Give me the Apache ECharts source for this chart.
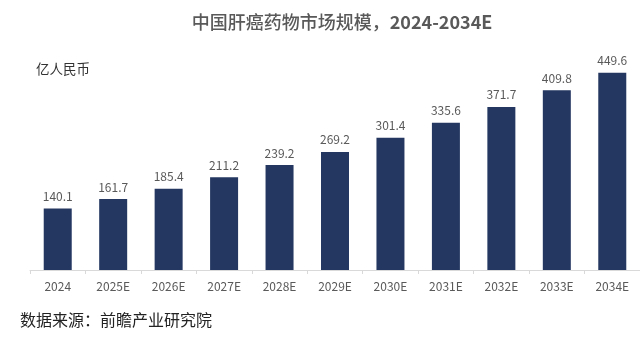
<!DOCTYPE html>
<html><head><meta charset="utf-8">
<script src="https://cdn.jsdelivr.net/npm/echarts@6/dist/echarts.min.js"></script>
<style>html,body{margin:0;padding:0;background:#fff}#c{width:640px;height:337px}</style>
</head><body><div id="c"></div>
<script>
const categories = ['2024','2025E','2026E','2027E','2028E','2029E','2030E','2031E','2032E','2033E','2034E'];
const values = [140.1,161.7,185.4,211.2,239.2,269.2,301.4,335.6,371.7,409.8,449.6];
const titleCn = '中国肝癌药物市场规模，';
const titleYears = '2024-2034E';
const unitText = '亿人民币';
const sourceText = '数据来源：前瞻产业研究院';
const font = '"Noto Sans CJK SC", "Noto Sans", sans-serif';
const chart = echarts.init(document.getElementById('c'));
chart.setOption({
  animation: false,
  backgroundColor: '#fff',
  title: [
    {text: '{a|' + titleCn + '}{b|' + titleYears + '}', left: 337, top: 8, textAlign: 'center',
     textStyle: {rich: {
       a: {fontFamily: font, fontSize: 18, fontWeight: 500, color: '#595959'},
       b: {fontFamily: font, fontSize: 18, fontWeight: 'bold', color: '#595959'}
     }}},
    {text: unitText, left: 31, top: 57,
     textStyle: {fontFamily: font, fontSize: 13.5, fontWeight: 'normal', color: '#333'}},
    {text: sourceText, left: 15, top: 307,
     textStyle: {fontFamily: font, fontSize: 16, fontWeight: 'normal', color: '#222'}}
  ],
  grid: {left: 30, top: 50.6, width: 611, height: 219.4, containLabel: false},
  xAxis: {
    type: 'category', data: categories,
    axisLine: {lineStyle: {color: '#d9d9d9'}},
    axisTick: {show: true, length: 4, lineStyle: {color: '#d9d9d9'}},
    axisLabel: {fontFamily: font, fontSize: 12, color: '#595959', margin: 10}
  },
  yAxis: {type: 'value', min: 0, max: 500, show: false, splitLine: {show: false}},
  series: [{
    type: 'bar', data: values, barWidth: 28,
    itemStyle: {color: '#243761'},
    label: {show: true, position: 'top', distance: 6, fontFamily: font, fontSize: 12, color: '#595959'}
  }]
});
</script></body></html>
